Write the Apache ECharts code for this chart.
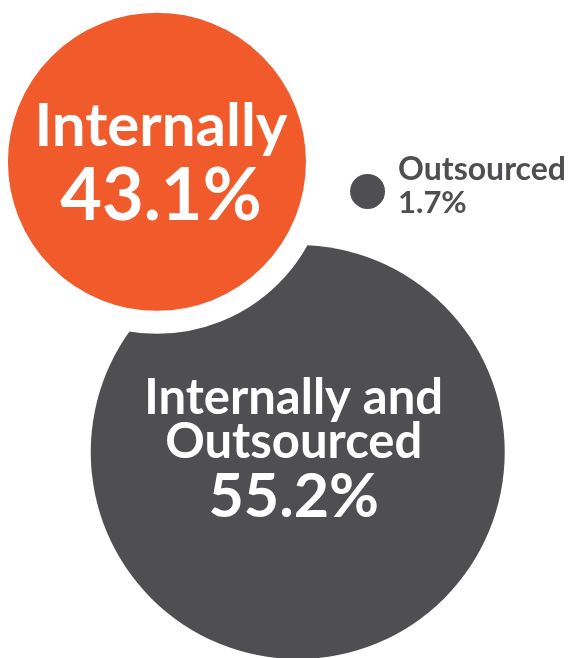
<!DOCTYPE html>
<html>
<head>
<meta charset="utf-8">
<script src="https://cdn.jsdelivr.net/npm/echarts@6/dist/echarts.min.js"></script>
<style>
	html, body { margin: 0; padding: 0; background: #fff; }
	#chart { width: 577px; height: 658px; }
</style>
</head>
<body>
<div id="chart"></div>
<script type="text/javascript">
	// data
	var categories = ['Internally and Outsourced', 'Internally', 'Outsourced'];
	var shares = [55.2, 43.1, 1.7];

	// bubble layout, in axis units (0-100 both ways)
	var bubbleX = [51.6, 27.2, 63.7];
	var bubbleY = [68.7, 24.6, 29.1];
	var bubbleSize = [414, 298, 35];

	var orange = '#f15b2c';
	var grey = '#4f4f51';
	var font = 'Lato';

	var items = [
		{
			value: [bubbleX[0], bubbleY[0], shares[0]],
			name: categories[0],
			symbolSize: bubbleSize[0],
			itemStyle: { color: grey, opacity: 1 },
			label: {
				position: 'inside',
				offset: [-4, 1],
				formatter: '{n|Internally and}\n{n|Outsourced}\n{v|' + shares[0] + '%}'
			}
		},
		{
			value: [bubbleX[1], bubbleY[1], shares[1]],
			name: categories[1],
			symbolSize: bubbleSize[1] + 23,
			itemStyle: { color: orange, borderColor: '#fff', borderWidth: 23, opacity: 1 },
			label: {
				position: 'inside',
				offset: [4, 0],
				formatter: '{N|' + categories[1] + '}\n{V|' + shares[1] + '%}'
			}
		},
		{
			value: [bubbleX[2], bubbleY[2], shares[2]],
			name: categories[2],
			symbolSize: bubbleSize[2],
			itemStyle: { color: grey, opacity: 1 },
			label: {
				position: 'right',
				distance: 13,
				offset: [0, -5],
				align: 'left',
				formatter: '{s|' + categories[2] + '}\n{t|' + shares[2] + '%}'
			}
		}
	];

	var myChart = echarts.init(document.getElementById('chart'));
	var option = {
		animation: false,
		grid: { left: 0, right: 0, top: 0, bottom: 0 },
		xAxis: { type: 'value', min: 0, max: 100, show: false },
		yAxis: { type: 'value', min: 0, max: 100, inverse: true, show: false },
		series: [
			{
				type: 'scatter',
				symbol: 'circle',
				data: items,
				itemStyle: { opacity: 1 },
				label: {
					show: true,
					fontFamily: font,
					fontWeight: 'bold',
					rich: {
						N: { color: '#fff', fontFamily: font, fontWeight: 'bold', fontSize: 60, lineHeight: 70, align: 'center' },
						V: { color: '#fff', fontFamily: font, fontWeight: 'bold', fontSize: 72, lineHeight: 70, align: 'center' },
						n: { color: '#fff', fontFamily: font, fontWeight: 'bold', fontSize: 49, lineHeight: 44, align: 'center' },
						v: { color: '#fff', fontFamily: font, fontWeight: 'bold', fontSize: 61, lineHeight: 66, align: 'center' },
						s: { color: grey, fontFamily: font, fontWeight: 'bold', fontSize: 32, lineHeight: 33, align: 'left' },
						t: { color: grey, fontFamily: font, fontWeight: 'bold', fontSize: 31, lineHeight: 33, align: 'left' }
					}
				},
				emphasis: { disabled: true }
			}
		]
	};
	myChart.setOption(option);
</script>
</body>
</html>
